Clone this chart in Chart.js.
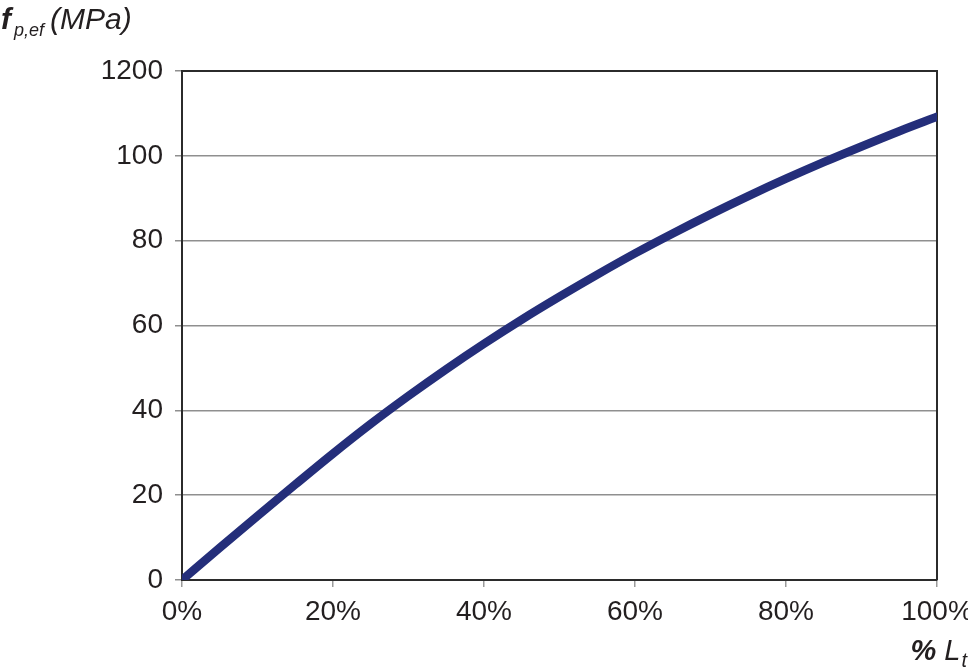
<!DOCTYPE html>
<html>
<head>
<meta charset="utf-8">
<script src="https://cdn.jsdelivr.net/npm/chart.js@4"></script>
<style>
  html, body { margin: 0; padding: 0; background: #fff; }
  #wrap { position: relative; width: 968px; height: 672px; font-family: "Liberation Sans", Arial, sans-serif; color: #231f20; }
  canvas { position: absolute; left: 0; top: 0; }
  .ttl { position: absolute; line-height: 1; white-space: nowrap; }
  .ttl i { font-style: italic; }
  .ttl sub { font-style: italic; }
</style>
</head>
<body>
<div id="wrap">
  <canvas id="c" width="968" height="672"></canvas>
  <div class="ttl" style="left:1px; top:4px; font-size:30px;"><b><i>f</i></b><sub style="font-size:18px; vertical-align:-7px; margin-left:3px;">p,ef</sub><i style="margin-left:6px;">(MPa)</i></div>
  <div class="ttl" style="right:1px; top:636px; font-size:29px;"><b><i>%</i></b><i style="margin-left:8px;">L</i><sub style="font-size:20px; vertical-align:-7px; margin-left:1px;">t</sub></div>
</div>
<script>
// Data
const lengthPct = [0, 5, 10, 15, 20, 25, 30, 35, 40, 45, 50, 55, 60, 65, 70, 75, 80, 85, 90, 95, 100];
const stressMPa = [0, 7.6, 15.1, 22.5, 29.8, 36.8, 43.4, 49.7, 55.7, 61.4, 66.8, 72.0, 77.0, 81.7, 86.2, 90.5, 94.6, 98.5, 102.2, 105.8, 109.2];
const xTickLabels = ['0%', '20%', '40%', '60%', '80%', '100%'];
const yTickLabels = ['0', '20', '40', '60', '80', '100', '1200'];

const points = lengthPct.map((x, i) => ({ x: x, y: stressMPa[i] }));

const framePlugin = {
  id: 'frame',
  beforeDatasetsDraw(chart) {
    const a = chart.chartArea, ctx = chart.ctx;
    ctx.save();
    ctx.strokeStyle = '#2b2b2b';
    ctx.lineWidth = 2;
    ctx.beginPath();
    ctx.moveTo(a.left, a.top);
    ctx.lineTo(a.right, a.top);
    ctx.lineTo(a.right, a.bottom);
    ctx.stroke();
    ctx.restore();
  }
};

new Chart(document.getElementById('c'), {
  type: 'line',
  data: {
    datasets: [{
      data: points,
      borderColor: 'rgb(36,46,122)',
      backgroundColor: 'rgb(36,46,122)',
      borderWidth: 8.5,
      pointRadius: 0,
      cubicInterpolationMode: 'monotone',
      borderCapStyle: 'round',
      borderJoinStyle: 'round',
      fill: false
    }]
  },
  options: {
    responsive: false,
    animation: false,
    devicePixelRatio: 1,
    layout: { padding: { top: 71, right: 31, left: 0, bottom: 0 } },
    plugins: { legend: { display: false }, tooltip: { enabled: false } },
    scales: {
      x: {
        type: 'linear',
        min: 0, max: 100,
        ticks: {
          stepSize: 20,
          color: '#231f20',
          font: { family: '"Liberation Sans", Arial, sans-serif', size: 28 },
          padding: 8,
          maxRotation: 0,
          callback: (v) => xTickLabels[Math.round(v / 20)]
        },
        grid: { display: true, drawOnChartArea: false, drawTicks: true, tickLength: 7, color: '#9a9a9a', lineWidth: 1.5 },
        border: { display: true, color: '#2b2b2b', width: 2 },
        afterFit(scale) { scale.height = 92; scale.paddingLeft = 0; scale.paddingRight = 0; }
      },
      y: {
        type: 'linear',
        min: 0, max: 120,
        ticks: {
          stepSize: 20,
          color: '#231f20',
          font: { family: '"Liberation Sans", Arial, sans-serif', size: 28 },
          padding: 12,
          callback: (v) => yTickLabels[Math.round(v / 20)]
        },
        grid: { display: true, drawTicks: true, tickLength: 7, color: '#8f8f8f', lineWidth: 1.5 },
        border: { display: true, color: '#2b2b2b', width: 2 },
        afterFit(scale) { scale.width = 182; scale.paddingTop = 0; scale.paddingBottom = 0; }
      }
    }
  },
  plugins: [framePlugin]
});
</script>
</body>
</html>
